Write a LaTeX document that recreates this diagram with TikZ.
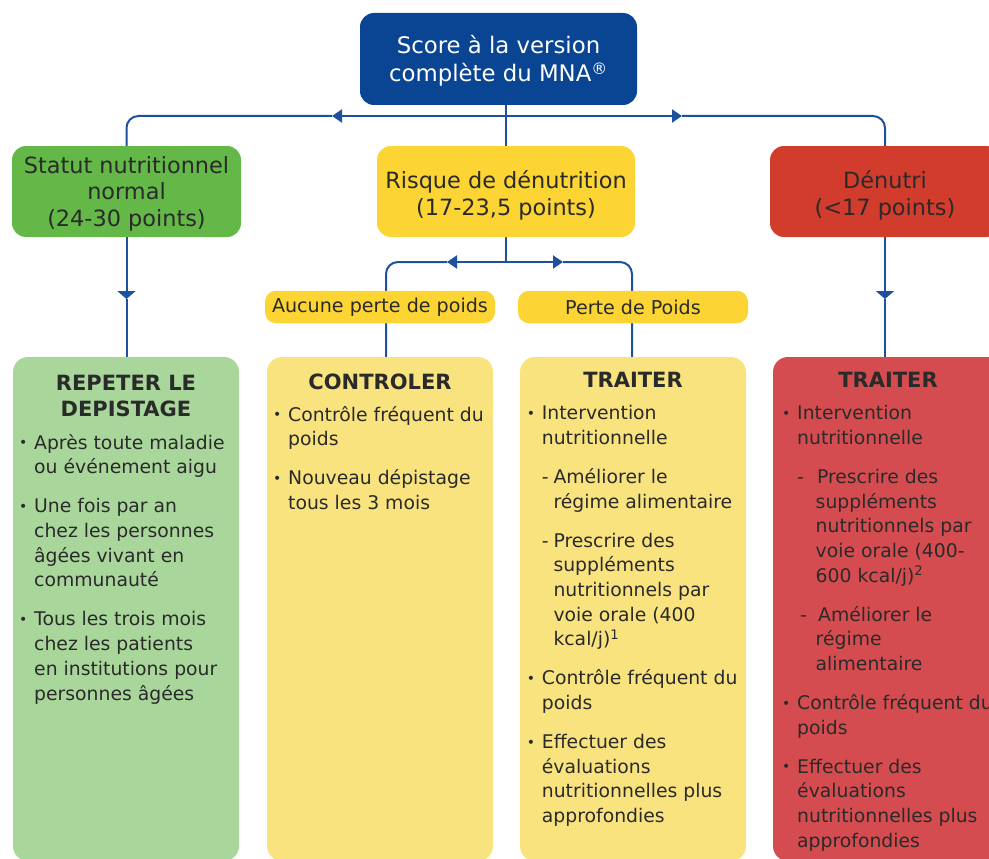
\documentclass[tikz,border=0pt]{standalone}
\usepackage{fontspec}
\setmainfont{DejaVu Sans}
\usetikzlibrary{arrows.meta}
\definecolor{navy}{HTML}{0A4593}
\definecolor{lineblue}{HTML}{1D519E}
\definecolor{grn}{HTML}{63B847}
\definecolor{yel}{HTML}{FCD433}
\definecolor{rd}{HTML}{D23C2C}
\definecolor{lgrn}{HTML}{A9D79B}
\definecolor{lyel}{HTML}{F9E37E}
\definecolor{lrd}{HTML}{D44C50}
\definecolor{txt}{HTML}{2A2A2A}
\pgfdeclarelayer{bg}
\pgfsetlayers{bg,main}
\newcommand\bl[1]{\strut\makebox[16.5pt][l]{\hspace{1.4pt}\raisebox{1.5pt}{\fontsize{14}{14}\selectfont•}}#1}
\newcommand\ct[1]{\strut\hspace*{16.5pt}#1}
\newcommand\dl[3]{\strut\hspace*{#1}\makebox[#2][l]{-}#3}
\newcommand\dc[2]{\strut\hspace*{#1}#2}
\tikzset{
  conn/.style={draw=lineblue, line width=2pt},
  tipH/.style={-{Triangle[length=10pt,width=13pt]}},
  tipV/.style={-{Triangle[length=8pt,width=18pt]}},
  headbox/.style={rounded corners=14pt, minimum height=91pt, inner sep=0pt, outer sep=0pt},
  headtxt/.style={anchor=north, inner sep=0pt, align=center, text=txt, font=\fontsize{22.4}{26.5}\selectfont},
  lblbox/.style={fill=yel, rounded corners=11pt, minimum width=230pt, minimum height=32.5pt, inner sep=0pt, outer sep=0pt, font=\fontsize{19.1}{22}\selectfont, text=txt},
  actbox/.style={anchor=north west, rounded corners=15pt, minimum height=504pt, inner sep=0pt, outer sep=0pt},
  acttitle/.style={anchor=north, inner sep=0pt, align=center, font=\fontsize{21}{26}\selectfont\bfseries, text=txt},
  bodytxt/.style={anchor=north west, inner sep=0pt, align=left, font=\fontsize{18.8}{24.7}\selectfont, text=txt},
}
\begin{document}
\begin{tikzpicture}[x=1pt,y=-1pt]
\useasboundingbox (0,0) rectangle (989,859);
% top box
\node[headbox, fill=navy, minimum width=277pt, minimum height=92pt] (score) at (498.5,59) {};
\node[headtxt, text=white, font=\fontsize{22.8}{28.4}\selectfont] (scoretxt) at (498.5,33.4) {\strut Score à la version\\\strut complète du MNA\textsuperscript{®}};
% category boxes
\node[headbox, fill=grn, minimum width=229pt] (green) at (126.5,191.5) {};
\node[headtxt] (greentxt) at (126.5,154.4) {\strut Statut nutritionnel\\\strut normal\\\strut (24-30 points)};
\node[headbox, fill=yel, minimum width=258pt] (risk) at (506,191.5) {};
\node[headtxt] (risktxt) at (506,170.2) {\strut Risque de dénutrition\\\strut (17-23,5 points)};
\node[headbox, fill=rd, minimum width=230pt] (red) at (885,191.5) {};
\node[headtxt] (redtxt) at (885,170.2) {\strut Dénutri\\\strut (<17 points)};
% labels
\node[lblbox] (lbl1) at (380,307) {Aucune perte de poids};
\node[lblbox] (lbl2) at (633,307) {Perte de Poids};
% action boxes
\node[actbox, fill=lgrn, minimum width=226pt] (gbox) at (13,357) {};
\node[actbox, fill=lyel, minimum width=226pt] (cbox) at (267,357) {};
\node[actbox, fill=lyel, minimum width=226pt] (tbox) at (520,357) {};
\node[actbox, fill=lrd, minimum width=230pt] (rbox) at (773,357) {};
% titles
\node[acttitle] (gtitle) at (126,371.8) {\strut REPETER LE\\\strut DEPISTAGE};
\node[acttitle] (ctitle) at (380,370.8) {\strut CONTROLER};
\node[acttitle] (ttitle) at (633,368.8) {\strut TRAITER};
\node[acttitle] (rtitle) at (888,368.8) {\strut TRAITER};
% bodies
\node[bodytxt] (gtxt) at (17.5,431.7) {\bl{Après toute maladie}\\\ct{ou événement aigu}\\[14.3pt]\bl{Une fois par an}\\\ct{chez les personnes}\\\ct{âgées vivant en}\\\ct{communauté}\\[14.3pt]\bl{Tous les trois mois}\\\ct{chez les patients}\\\ct{en institutions pour}\\\ct{personnes âgées}};
\node[bodytxt] (ctxt) at (271.5,403.7) {\bl{Contrôle fréquent du}\\\ct{poids}\\[14.3pt]\bl{Nouveau dépistage}\\\ct{tous les 3 mois}};
\node[bodytxt] (ttxt) at (525.2,402.2) {\bl{Intervention}\\\ct{nutritionnelle}\\[14.3pt]\dl{16.5pt}{11.6pt}{Améliorer le}\\\dc{28.1pt}{régime alimentaire}\\[14.3pt]\dl{16.5pt}{11.6pt}{Prescrire des}\\\dc{28.1pt}{suppléments}\\\dc{28.1pt}{nutritionnels par}\\\dc{28.1pt}{voie orale (400}\\\dc{28.1pt}{kcal/j)\textsuperscript{1}}\\[14.3pt]\bl{Contrôle fréquent du}\\\ct{poids}\\[14.3pt]\bl{Effectuer des}\\\ct{évaluations}\\\ct{nutritionnelles plus}\\\ct{approfondies}};
\node[bodytxt] (rtxt) at (780.5,402.2) {\bl{Intervention}\\\ct{nutritionnelle}\\[14.3pt]\dl{16.5pt}{19.8pt}{Prescrire des}\\\dc{35pt}{suppléments}\\\dc{35pt}{nutritionnels par}\\\dc{35pt}{voie orale (400-}\\\dc{35pt}{600 kcal/j)\textsuperscript{2}}\\[14.3pt]\dl{19.5pt}{18pt}{Améliorer le}\\\dc{35pt}{régime}\\\dc{35pt}{alimentaire}\\[14.3pt]\bl{Contrôle fréquent du}\\\ct{poids}\\[14.3pt]\bl{Effectuer des}\\\ct{évaluations}\\\ct{nutritionnelles plus}\\\ct{approfondies}};
% connectors
\begin{pgfonlayer}{bg}
\coordinate (j1) at (506,116);
\coordinate (j2) at (506,262);
\coordinate (aL) at (332,116);
\coordinate (aR) at (682,116);
\coordinate (aG) at (126.5,299);
\coordinate (aD) at (885,299);
\coordinate (aSL) at (447,262);
\coordinate (aSR) at (563,262);
\coordinate (cl) at (386,262);
\coordinate (cr) at (632,262);
\draw[conn] (score.south -| j1) -- (j2);
\draw[conn, tipH] (j1) -- (aL);
\draw[conn, rounded corners=12pt] (aL) -- (aL -| green) -- (green.north);
\draw[conn, tipH] (j1) -- (aR);
\draw[conn, rounded corners=12pt] (aR) -- (aR -| red) -- (red.north);
\draw[conn, tipV] (green.south) -- (aG);
\draw[conn] (aG) -- (aG |- gbox.north);
\draw[conn, tipV] (red.south) -- (aD);
\draw[conn] (aD) -- (aD |- rbox.north);
\draw[conn, tipH] (j2) -- (aSL);
\draw[conn, rounded corners=12pt] (aSL) -- (cl) -- (cl |- cbox.north);
\draw[conn, tipH] (j2) -- (aSR);
\draw[conn, rounded corners=12pt] (aSR) -- (cr) -- (cr |- tbox.north);
\end{pgfonlayer}
\end{tikzpicture}
\end{document}
